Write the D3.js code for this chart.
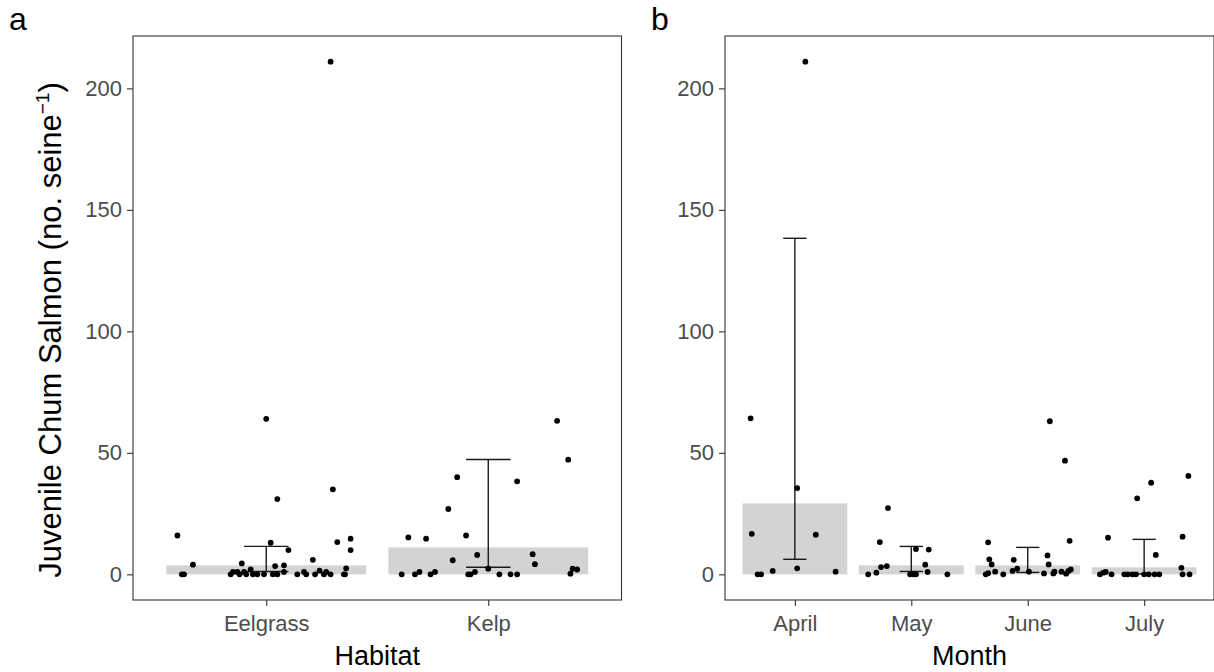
<!DOCTYPE html>
<html>
<head>
<meta charset="utf-8">
<script src="https://cdn.jsdelivr.net/npm/d3@7"></script>
<style>
  body { margin: 0; background: #fff; }
  text { font-family: "Liberation Sans", Arial, Helvetica, sans-serif; }
</style>
</head>
<body>
<div id="chart-area"></div>
<script>
// values; jitter offsets are in category units
const habitats = ["Eelgrass", "Kelp"];
const habitatMean = [3.7, 11.1];
const habitatLo = [1.2, 2.9];
const habitatHi = [11.5, 47.3];

const months = ["April", "May", "June", "July"];
const monthMean = [29.2, 3.7, 3.7, 2.9];
const monthLo = [6.2, 1.2, 0.8, 0.2];
const monthHi = [138.3, 11.5, 11.1, 14.4];

const eelgrassVals = [16, 0, 0, 4, 0, 1, 1, 0, 4.5, 1, 0, 2, 0, 0, 0, 64, 13, 0, 3.4, 0, 31, 3.7, 1, 10, 0, 1, 0, 6, 0, 1.5, 0, 1, 0, 211, 35, 13.3, 0, 2.5, 0, 14.7, 10];
const eelgrassJit = [-0.40, -0.38, -0.37, -0.33, -0.16, -0.15, -0.13, -0.12, -0.11, -0.10, -0.09, -0.07, -0.06, -0.04, -0.01, 0.00, 0.02, 0.03, 0.04, 0.05, 0.05, 0.08, 0.08, 0.10, 0.14, 0.17, 0.18, 0.21, 0.22, 0.24, 0.26, 0.27, 0.29, 0.29, 0.30, 0.32, 0.35, 0.36, 0.355, 0.38, 0.38];

const kelpVals = [0, 15.2, 0, 1, 14.7, 0, 1, 26.9, 5.8, 40, 16, 0, 0, 1, 8, 2.3, 0, 0, 0, 38.3, 8.3, 4.2, 63.2, 47.2, 0.3, 2.3, 2];
const kelpJit = [-0.39, -0.36, -0.33, -0.31, -0.28, -0.26, -0.24, -0.18, -0.16, -0.14, -0.10, -0.09, -0.08, -0.06, -0.05, 0.00, 0.05, 0.10, 0.13, 0.13, 0.20, 0.21, 0.31, 0.36, 0.37, 0.38, 0.40];

const aprilVals = [64.2, 16.7, 0, 0, 1.4, 35.5, 2.5, 211, 16.3, 1.1];
const aprilJit = [-0.38, -0.37, -0.32, -0.29, -0.19, 0.02, 0.02, 0.09, 0.18, 0.35];

const mayVals = [0, 0.7, 13.3, 3, 3.4, 27.3, 0, 0, 0, 10.4, 4, 1, 10.2, 0];
const mayJit = [-0.37, -0.30, -0.27, -0.26, -0.21, -0.20, -0.01, 0.02, 0.04, 0.04, 0.12, 0.14, 0.15, 0.31];

const juneVals = [0, 13.2, 0.5, 6.2, 4.1, 1.1, 0, 6, 1.4, 2.3, 1.1, 0.4, 7.8, 4.1, 63, 0.4, 1.1, 1.1, 46.8, 0.3, 1.4, 2, 13.8];
const juneJit = [-0.36, -0.34, -0.34, -0.33, -0.31, -0.28, -0.21, -0.12, -0.13, -0.09, 0.01, 0.14, 0.17, 0.18, 0.19, 0.22, 0.23, 0.29, 0.32, 0.33, 0.35, 0.37, 0.36];

const julyVals = [0, 0.7, 1, 15.1, 0, 0, 0, 0, 0, 31.3, 0, 0, 37.7, 0, 8, 0, 2.7, 15.5, 0, 40.5, 0];
const julyJit = [-0.38, -0.35, -0.33, -0.31, -0.28, -0.17, -0.14, -0.10, -0.07, -0.06, 0.00, 0.04, 0.06, 0.09, 0.10, 0.13, 0.32, 0.33, 0.33, 0.38, 0.39];

const yTicks = [0, 50, 100, 150, 200];

let svg = d3.select("#chart-area").append("svg")
	.attr("width", 1214)
	.attr("height", 672)

let y = d3.scaleLinear().domain([-10.55, 221.55]).range([600, 36]);

function drawPanel(opt) {
	let x = d3.scalePoint().domain(opt.cats).range([opt.left, opt.right]).padding(0.6);
	let step = x.step();
	let g = svg.append("g");

	// bars
	g.selectAll("rect.bar").data(opt.cats)
		.enter().append("rect")
		.attr("class", "bar")
		.attr("x", d => x(d) - step * 0.45)
		.attr("width", step * 0.9)
		.attr("y", (d, i) => y(opt.mean[i]))
		.attr("height", (d, i) => y(0) - y(opt.mean[i]))
		.attr("fill", "#d3d3d3");

	// error bars
	let eb = g.selectAll("g.eb").data(opt.cats).enter().append("g");
	eb.append("line")
		.attr("x1", d => x(d)).attr("x2", d => x(d))
		.attr("y1", (d, i) => y(opt.lo[i])).attr("y2", (d, i) => y(opt.hi[i]));
	eb.append("line")
		.attr("x1", d => x(d) - step * 0.1).attr("x2", d => x(d) + step * 0.1)
		.attr("y1", (d, i) => y(opt.lo[i])).attr("y2", (d, i) => y(opt.lo[i]));
	eb.append("line")
		.attr("x1", d => x(d) - step * 0.1).attr("x2", d => x(d) + step * 0.1)
		.attr("y1", (d, i) => y(opt.hi[i])).attr("y2", (d, i) => y(opt.hi[i]));
	eb.selectAll("line").attr("stroke", "#1a1a1a").attr("stroke-width", 1.4);

	// jittered points
	let pts = [];
	opt.cats.forEach((c, i) => {
		opt.vals[i].forEach((v, j) => pts.push({ cat: c, jit: opt.jit[i][j], v: v }));
	});
	g.selectAll("circle").data(pts)
		.enter().append("circle")
		.attr("cx", d => x(d.cat) + d.jit * step)
		.attr("cy", d => y(d.v))
		.attr("r", 2.9)
		.attr("fill", "#000");

	// border
	g.append("rect")
		.attr("x", opt.left).attr("y", 36)
		.attr("width", opt.right - opt.left).attr("height", 564)
		.attr("fill", "none").attr("stroke", "#333").attr("stroke-width", 1.1);

	// axes
	let ya = g.append("g").attr("transform", "translate(" + opt.left + ",0)")
		.call(d3.axisLeft(y).tickValues(yTicks).tickSize(6).tickPadding(5));
	let xa = g.append("g").attr("transform", "translate(0,600)")
		.call(d3.axisBottom(x).tickSize(6).tickPadding(9));
	[ya, xa].forEach(a => {
		a.select(".domain").remove();
		a.selectAll(".tick line").attr("stroke", "#333").attr("stroke-width", 1.1);
		a.selectAll(".tick text").attr("fill", "#4d4d4d").style("font-size", "22px")
			.style("font-family", "'Liberation Sans', Arial, sans-serif");
	});

	svg.append("text")
		.attr("x", (opt.left + opt.right) / 2).attr("y", 665)
		.attr("text-anchor", "middle")
		.style("font-size", "27px")
		.text(opt.title);

	svg.append("text")
		.attr("x", opt.tagX).attr("y", 30)
		.style("font-size", "32px")
		.text(opt.tag);
}

drawPanel({
	cats: habitats, mean: habitatMean, lo: habitatLo, hi: habitatHi,
	vals: [eelgrassVals, kelpVals], jit: [eelgrassJit, kelpJit],
	left: 133, right: 621.5, title: "Habitat", tag: "a", tagX: 9
});

drawPanel({
	cats: months, mean: monthMean, lo: monthLo, hi: monthHi,
	vals: [aprilVals, mayVals, juneVals, julyVals], jit: [aprilJit, mayJit, juneJit, julyJit],
	left: 725, right: 1214, title: "Month", tag: "b", tagX: 651
});

// y axis title
let yt = svg.append("text")
	.attr("transform", "translate(61,330) rotate(-90)")
	.attr("text-anchor", "middle")
	.style("font-size", "31px");
yt.append("tspan").text("Juvenile Chum Salmon (no. seine");
yt.append("tspan").attr("dy", -12).style("font-size", "19px").text("\u22121");
yt.append("tspan").attr("dy", 12).text(")");
</script>
</body>
</html>
